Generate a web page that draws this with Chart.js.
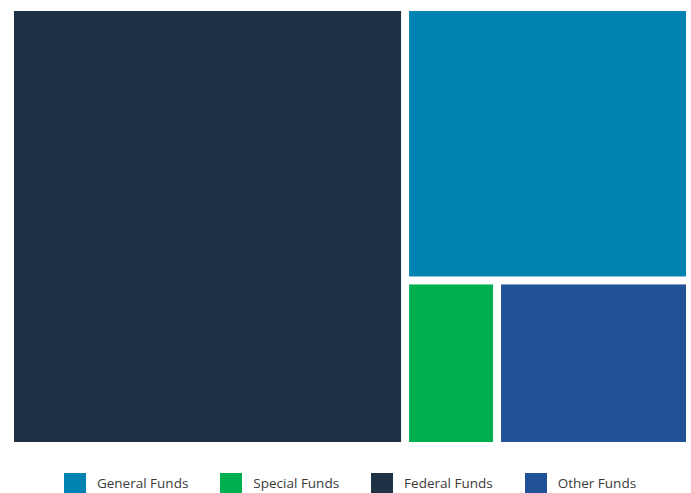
<!DOCTYPE html>
<html>
<head>
<meta charset="utf-8">
<title>Funding Sources</title>
<script src="https://cdn.jsdelivr.net/npm/chart.js@4.4.1/dist/chart.umd.min.js"></script>
<style>
  html, body { margin: 0; padding: 0; background: #fff; }
  #wrap { position: relative; width: 691px; height: 493px; overflow: hidden; }
  #chartBox { position: absolute; left: 0; top: 0; width: 691px; height: 450px; }
  #legend {
    position: absolute; left: 0; top: 473px; width: 691px; height: 20px;
    box-sizing: border-box; padding-left: 9px;
    display: flex; justify-content: center; align-items: center; gap: 32px;
    font-family: 'Open Sans', sans-serif; font-size: 13.5px; color: #3a3a3a;
  }
  #legend .item { display: flex; align-items: center; white-space: nowrap; }
  #legend .swatch { width: 22px; height: 20px; margin-right: 11px; }
</style>
</head>
<body>
<div id="wrap">
  <div id="chartBox"><canvas id="treeChart"></canvas></div>
  <div id="legend"></div>
</div>
<script>
// Share of total funding (%), in tile order
const FUNDS   = ['Federal Funds', 'General Funds', 'Special Funds', 'Other Funds'];
const SHARES  = [58.1, 26.1, 5.1, 10.7];
const COLOURS = ['#1f3245', '#0082b3', '#00b04f', '#215297'];

// Legend reads in this order
const LEGEND_ORDER = ['General Funds', 'Special Funds', 'Federal Funds', 'Other Funds'];

const SPACING = 8;

// ─── Squarified treemap layout ──────────────────────────────────────────────

function worstRatio(row, side) {
  const sum = row.reduce((s, it) => s + it.v, 0);
  const max = Math.max(...row.map(it => it.v));
  const min = Math.min(...row.map(it => it.v));
  return Math.max(side * side * max / (sum * sum), (sum * sum) / (side * side * min));
}

/**
 * Lays the values out in a w x h box (keeps input order).
 * Returns one {x, y, w, h} per value in the same units as the box.
 */
function squarify(values, w, h) {
  const total = values.reduce((a, b) => a + b, 0);
  let items = values.map((v, i) => ({ v: v / total * w * h, i }));
  const rects = [];
  let x = 0, y = 0;

  while (items.length) {
    const side = Math.min(w, h);
    let row = [items[0]];
    let best = worstRatio(row, side);
    let k = 1;
    while (k < items.length) {
      const next = row.concat(items[k]);
      const r = worstRatio(next, side);
      if (r > best) break;
      row = next; best = r; k++;
    }
    const sum = row.reduce((s, it) => s + it.v, 0);
    if (w >= h) {
      const colW = sum / h;
      let cy = y;
      row.forEach(it => {
        const rh = it.v / colW;
        rects[it.i] = { x, y: cy, w: colW, h: rh };
        cy += rh;
      });
      x += colW; w -= colW;
    } else {
      const rowH = sum / w;
      let cx = x;
      row.forEach(it => {
        const rw = it.v / rowH;
        rects[it.i] = { x: cx, y, w: rw, h: rowH };
        cx += rw;
      });
      y += rowH; h -= rowH;
    }
    items = items.slice(k);
  }
  return rects;
}

// ─── Tile drawing plugin ────────────────────────────────────────────────────

const treemapTiles = {
  id: 'treemapTiles',
  beforeDatasetsDraw(chart) {
    const { ctx, chartArea, scales: { x, y } } = chart;
    const aw = chartArea.right - chartArea.left;
    const ah = chartArea.bottom - chartArea.top;
    // lay out in pixel-proportional units, then back to 0..1 scale values
    const rects = squarify(SHARES, aw, ah);
    const half = SPACING / 2;

    ctx.save();
    rects.forEach((r, i) => {
      const x0 = x.getPixelForValue(r.x / aw) + half;
      const x1 = x.getPixelForValue((r.x + r.w) / aw) - half;
      const y0 = y.getPixelForValue(r.y / ah) + half;
      const y1 = y.getPixelForValue((r.y + r.h) / ah) - half;
      ctx.fillStyle = COLOURS[i];
      ctx.fillRect(x0, y0, x1 - x0, y1 - y0);
    });
    ctx.restore();
  },
};

new Chart(document.getElementById('treeChart'), {
  type: 'scatter',
  data: {
    datasets: FUNDS.map((name, i) => ({
      label: name,
      data: [],
      backgroundColor: COLOURS[i],
    })),
  },
  options: {
    responsive: true,
    maintainAspectRatio: false,
    animation: false,
    layout: { padding: { left: 10, right: 1, top: 7, bottom: 4 } },
    plugins: {
      legend: { display: false },
      tooltip: { enabled: false },
    },
    scales: {
      x: { type: 'linear', min: 0, max: 1, display: false },
      y: { type: 'linear', min: 0, max: 1, reverse: true, display: false },
    },
  },
  plugins: [treemapTiles],
});

// ─── HTML legend ────────────────────────────────────────────────────────────

const legendEl = document.getElementById('legend');
LEGEND_ORDER.forEach(name => {
  const i = FUNDS.indexOf(name);
  const item = document.createElement('div');
  item.className = 'item';
  const sw = document.createElement('span');
  sw.className = 'swatch';
  sw.style.background = COLOURS[i];
  const label = document.createElement('span');
  label.textContent = name;
  item.appendChild(sw);
  item.appendChild(label);
  legendEl.appendChild(item);
});
</script>
</body>
</html>
